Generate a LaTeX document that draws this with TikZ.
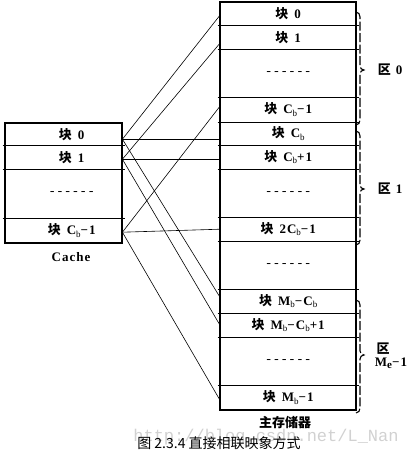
\documentclass[tikz,border=0pt]{standalone}
\usepackage{fontspec}
\setmainfont{Liberation Serif}[LetterSpace=8]
\newfontfamily\cjk{Noto Sans CJK SC}
\newfontfamily\monof{Liberation Mono}
\newcommand\kk{{\cjk\bfseries 块}}
\newcommand\blk[1]{\kk\hspace{6pt}#1}
\newcommand\lowb{\raisebox{-0.45ex}{\fontsize{9}{9}\selectfont\mdseries b}}
\newcommand\dashtext{{\monof\mdseries ------}}
\begin{document}
\begin{tikzpicture}[x=1pt,y=-1pt,
  mrow/.style={minimum width=136pt, inner sep=0pt, anchor=north west,
    font=\fontsize{13}{13}\selectfont\bfseries},
  crow/.style={minimum width=117pt, inner sep=0pt, anchor=north west,
    font=\fontsize{13}{13}\selectfont\bfseries},
  sepline/.style={line width=0.7pt, shorten <=-2.5pt, shorten >=-2.5pt},
  frame/.style={line width=2pt},
  conn/.style={line width=0.6pt},
  brc/.style={line width=1.1pt, dash pattern=on 9pt off 2.5pt},
  lbl/.style={font=\fontsize{13}{13}\selectfont\bfseries, inner sep=0pt},
]
\useasboundingbox (0,0) rectangle (408,457);

% watermark
\node[text=black!18, font=\monof\fontsize{17}{17}\selectfont, inner sep=0pt] (wm) at (266,437) {http://blog.csdn.net/L\_Nan};

% main memory rows
\node[mrow, minimum height=23pt] (m0) at (220,2) {\blk{0}};
\node[mrow, minimum height=24pt] (m1) at (220,25) {\blk{1}};
\node[mrow, minimum height=48pt] (m2) at (220,49) {\dashtext};
\node[mrow, minimum height=25pt] (m3) at (220,97) {\blk{C\lowb−1}};
\node[mrow, minimum height=23pt] (m4) at (220,122) {\blk{C\lowb}};
\node[mrow, minimum height=24pt] (m5) at (220,145) {\blk{C\lowb+1}};
\node[mrow, minimum height=48pt] (m6) at (220,169) {\dashtext};
\node[mrow, minimum height=24pt] (m7) at (220,217) {\blk{2C\lowb−1}};
\node[mrow, minimum height=48pt] (m8) at (220,241) {\dashtext};
\node[mrow, minimum height=24pt] (m9) at (220,289) {\blk{M\lowb−C\lowb}};
\node[mrow, minimum height=24pt] (m10) at (220,313) {\blk{M\lowb−C\lowb+1}};
\node[mrow, minimum height=48pt] (m11) at (220,337) {\dashtext};
\node[mrow, minimum height=25pt] (m12) at (220,385) {\blk{M\lowb−1}};

\foreach \r in {m0,m1,m2,m3,m4,m5,m6,m7,m8,m9,m10,m11}
  \draw[sepline] (\r.south west) -- (\r.south east);
\draw[frame] (m0.north west) rectangle (m12.south east);

% cache rows
\node[crow, minimum height=22pt] (c0) at (5,123) {\hspace*{16pt}\blk{0}};
\node[crow, minimum height=24pt] (c1) at (5,145) {\hspace*{16pt}\blk{1}};
\node[crow, minimum height=49pt] (c2) at (5,169) {\hspace*{16pt}\dashtext};
\node[crow, minimum height=25pt] (c3) at (5,218) {\hspace*{16pt}\blk{C\lowb−1}};
\foreach \r in {c0,c1,c2}
  \draw[sepline] (\r.south west) -- (\r.south east);
\draw[frame] (c0.north west) rectangle (c3.south east);

\node[lbl] (cachelbl) at (71,257) {Cache};
\node[font=\cjk\bfseries\fontsize{13}{13}\selectfont, inner sep=0pt] (mainlbl) at (285,423) {主存储器};
\node[font=\cjk\fontsize{14}{14}\selectfont, inner sep=0pt] (cap) at (219,443) {图 2.3.4 直接相联映象方式};

% connector ports
\coordinate (p0) at ([yshift=-5pt]c0.east);
\coordinate (p1) at ([yshift=-2pt]c1.east);
\coordinate (p3) at ([yshift=-1.5pt]c3.east);

\draw[conn] (p0) -- ([yshift=-1.5pt]m0.west);
\draw[conn] (p0) -- ([yshift=-5.5pt]m4.west);
\draw[conn] (p0) -- ([yshift=4pt]m9.west);
\draw[conn] (p1) -- ([yshift=-6pt]m1.west);
\draw[conn] (p1) -- ([yshift=-2pt]m5.west);
\draw[conn] (p1) -- (m10.west);
\draw[conn] (p3) -- ([yshift=3.5pt]m3.west);
\draw[conn] (p3) -- (m7.west);
\draw[conn] (p3) -- ([yshift=-2.5pt]m12.west);

% braces
\draw[brc] (356,12) to[out=0,in=90] (360,17) -- (360,66) to[out=-90,in=180] (364,70)
  to[out=180,in=90] (360,74) -- (360,120) to[out=-90,in=0] (356,125);
\draw[brc] (356,131) to[out=0,in=90] (360,136) -- (360,185) to[out=-90,in=180] (364,189)
  to[out=180,in=90] (360,193) -- (360,240) to[out=-90,in=0] (356,245);
\draw[brc] (356,300) to[out=0,in=90] (360,305) -- (360,351) to[out=-90,in=180] (364,355)
  to[out=180,in=90] (360,359) -- (360,408) to[out=-90,in=0] (356,413);

\node[lbl] (z0) at (390,70) {{\cjk\bfseries 区}\hspace{5pt}0};
\node[lbl] (z1) at (390,189) {{\cjk\bfseries 区}\hspace{5pt}1};
\node[lbl] (z2a) at (383,349) {{\cjk\bfseries 区}};
\node[lbl] (z2b) at (391,363) {M\raisebox{-0.3ex}{\fontsize{11}{11}\selectfont e}−1};
\end{tikzpicture}
\end{document}
